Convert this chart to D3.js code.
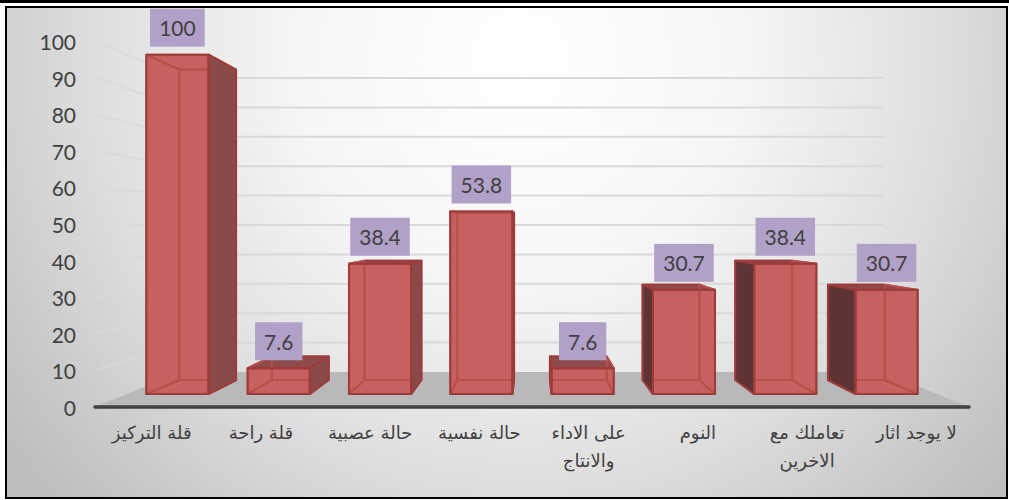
<!DOCTYPE html>
<html>
<head>
<meta charset="utf-8">
<script src="https://cdn.jsdelivr.net/npm/d3@7"></script>
<style>
  html, body { margin: 0; padding: 0; background: #fff; }
  svg { display: block; }
</style>
</head>
<body>
<svg id="chart" width="1009" height="500"></svg>
<script>
const categories = [
  "قلة التركيز",
  "قلة راحة",
  "حالة عصبية",
  "حالة نفسية",
  "على الاداء والانتاج",
  "النوم",
  "تعاملك مع الاخرين",
  "لا يوجد اثار",
];
const categoryLines = [
  ["قلة التركيز"],
  ["قلة راحة"],
  ["حالة عصبية"],
  ["حالة نفسية"],
  ["على الاداء", "والانتاج"],
  ["النوم"],
  ["تعاملك مع", "الاخرين"],
  ["لا يوجد اثار"],
];
const values = [100, 7.6, 38.4, 53.8, 7.6, 30.7, 38.4, 30.7];
const yTicks = [0, 10, 20, 30, 40, 50, 60, 70, 80, 90, 100];

const svg = d3.select("#chart");

// Background gradient
const defs = svg.append("defs");
const bg = defs
  .append("radialGradient")
  .attr("id", "bg")
  .attr("gradientUnits", "userSpaceOnUse")
  .attr("cx", 520)
  .attr("cy", 60)
  .attr("r", 640);
[
  [0, "#ffffff"],
  [0.35, "#f6f6f6"],
  [0.68, "#dddddd"],
  [0.85, "#cccccc"],
  [1, "#bebebe"],
].forEach(([o, c]) => bg.append("stop").attr("offset", o).attr("stop-color", c));

svg.append("rect").attr("x", 0).attr("y", 0).attr("width", 1009).attr("height", 3).attr("fill", "#000");
svg
  .append("rect")
  .attr("x", 6)
  .attr("y", 7)
  .attr("width", 1001)
  .attr("height", 491)
  .attr("fill", "url(#bg)")
  .attr("stroke", "#000")
  .attr("stroke-width", 2);

// Scales at the front plane of the chart box
const x = d3.scaleBand().domain(categories).range([95, 969]);
const y = d3.scaleLinear().domain([0, 100]).range([407, 41]);

// Perspective: everything shrinks toward one vanishing point
const vanishX = 532;
const vanishY = 229;
const depthScale = d3.scaleLinear().domain([0, 1]).range([0, 0.245]);
const project = (wx, v, depth) => {
  const s = 1 / (1 + depthScale(depth));
  return [vanishX + s * (wx - vanishX), vanishY + s * (y(v) - vanishY)];
};
const line = d3.line();
const face = (pts) => line(pts) + "Z";

// Floor
svg
  .append("path")
  .attr("d", face([project(95, 0, 0), project(969, 0, 0), project(969, 0, 1), project(95, 0, 1)]))
  .attr("fill", "#b9b9b9");

// Gridlines on the left wall and the back wall
const grid = svg.append("g").attr("fill", "none").attr("stroke", "#d9d9d9").attr("stroke-width", 2);
grid
  .selectAll("path.wall")
  .data(yTicks.slice(1))
  .join("path")
  .attr("class", "wall")
  .attr("opacity", 0.75)
  .attr("d", (d) => line([project(95, d, 0), project(95, d, 1)]));
grid
  .selectAll("path.back")
  .data(yTicks.slice(1))
  .join("path")
  .attr("class", "back")
  .attr("d", (d) => line([project(95, d, 1), project(969, d, 1)]));

// Axis line
svg
  .append("line")
  .attr("x1", 95)
  .attr("x2", 969)
  .attr("y1", y(0))
  .attr("y2", y(0))
  .attr("stroke", "#404040")
  .attr("stroke-width", 3.5)
  .attr("stroke-linecap", "round");

// Y axis labels
svg
  .append("g")
  .selectAll("text")
  .data(yTicks)
  .join("text")
  .attr("x", 76)
  .attr("y", (d) => y(d))
  .attr("dy", "0.43em")
  .attr("text-anchor", "end")
  .attr("fill", "#404040")
  .style("font-family", "Lato, sans-serif")
  .style("font-size", "21px")
  .text((d) => d);

// Category labels
svg
  .append("g")
  .selectAll("text")
  .data(categories)
  .join("text")
  .attr("text-anchor", "middle")
  .attr("direction", "rtl")
  .attr("fill", "#404040")
  .style("font-family", "'DejaVu Sans', sans-serif")
  .style("font-size", "18px")
  .each(function (d, i) {
    d3.select(this)
      .selectAll("tspan")
      .data(categoryLines[i])
      .join("tspan")
      .attr("x", x(d) + x.bandwidth() / 2 + 2)
      .attr("y", (l, j) => 439 + j * 28)
      .text((l) => l);
  });

// Bars
const barPad = (x.bandwidth() - 67) / 2;
const depthFront = 0.32;
const depthBack = 0.73;
const edge = "#9c3c3a";
const innerEdge = "#b74f4d";

const bars = svg
  .append("g")
  .selectAll("g")
  .data(categories)
  .join("g")
  .attr("stroke-width", 2)
  .attr("stroke-linejoin", "round");

bars.each(function (cat, i) {
  const v = values[i];
  const x0 = x(cat) + barPad;
  const x1 = x(cat) + x.bandwidth() - barPad;
  const p = project;
  const g = d3.select(this);
  const add = (pts, fill, stroke) =>
    g
      .append("path")
      .attr("d", face(pts))
      .attr("fill", fill)
      .attr("stroke", stroke);

  const back = [p(x0, 0, depthBack), p(x1, 0, depthBack), p(x1, v, depthBack), p(x0, v, depthBack)];
  const floor = [p(x0, 0, depthFront), p(x1, 0, depthFront), p(x1, 0, depthBack), p(x0, 0, depthBack)];
  const left = [p(x0, 0, depthFront), p(x0, 0, depthBack), p(x0, v, depthBack), p(x0, v, depthFront)];
  const right = [p(x1, 0, depthFront), p(x1, 0, depthBack), p(x1, v, depthBack), p(x1, v, depthFront)];
  const top = [p(x0, v, depthFront), p(x1, v, depthFront), p(x1, v, depthBack), p(x0, v, depthBack)];
  const front = [p(x0, 0, depthFront), p(x1, 0, depthFront), p(x1, v, depthFront), p(x0, v, depthFront)];

  // front face, then the inner edges seen through it
  add(front, "#c6615f", "none");
  add(back, "none", innerEdge);
  add(floor, "none", innerEdge);

  // outer faces, dark only where they stick out past the front
  const leftOut = back[0][0] < front[0][0];
  const rightOut = back[1][0] > front[1][0];
  const topSeen = back[3][1] < front[3][1];
  if (topSeen) add(top, "#8f4a4a", edge);
  else add(top, "none", innerEdge);
  if (leftOut) add(left, "#5e3434", edge);
  else add(left, "none", innerEdge);
  if (rightOut) add(right, "#8a4a4a", edge);
  else add(right, "none", innerEdge);

  add(front, "none", edge);
});

// Value labels on purple boxes
const labels = svg
  .append("g")
  .selectAll("g")
  .data(categories)
  .join("g")
  .attr("transform", (d, i) => {
    const top = project(x(d) + x.bandwidth() / 2, values[i], depthFront);
    return `translate(${top[0]}, ${top[1] - 27})`;
  });
labels
  .append("text")
  .attr("text-anchor", "middle")
  .attr("dy", "0.4em")
  .attr("fill", "#404040")
  .style("font-family", "Lato, sans-serif")
  .style("font-size", "21px")
  .text((d, i) => values[i]);
labels.each(function () {
  const g = d3.select(this);
  const w = g.select("text").node().getBBox().width + 18;
  g.insert("rect", "text")
    .attr("x", -w / 2)
    .attr("y", -19)
    .attr("width", w)
    .attr("height", 38)
    .attr("fill", "#b1a0c7");
});
</script>
</body>
</html>
